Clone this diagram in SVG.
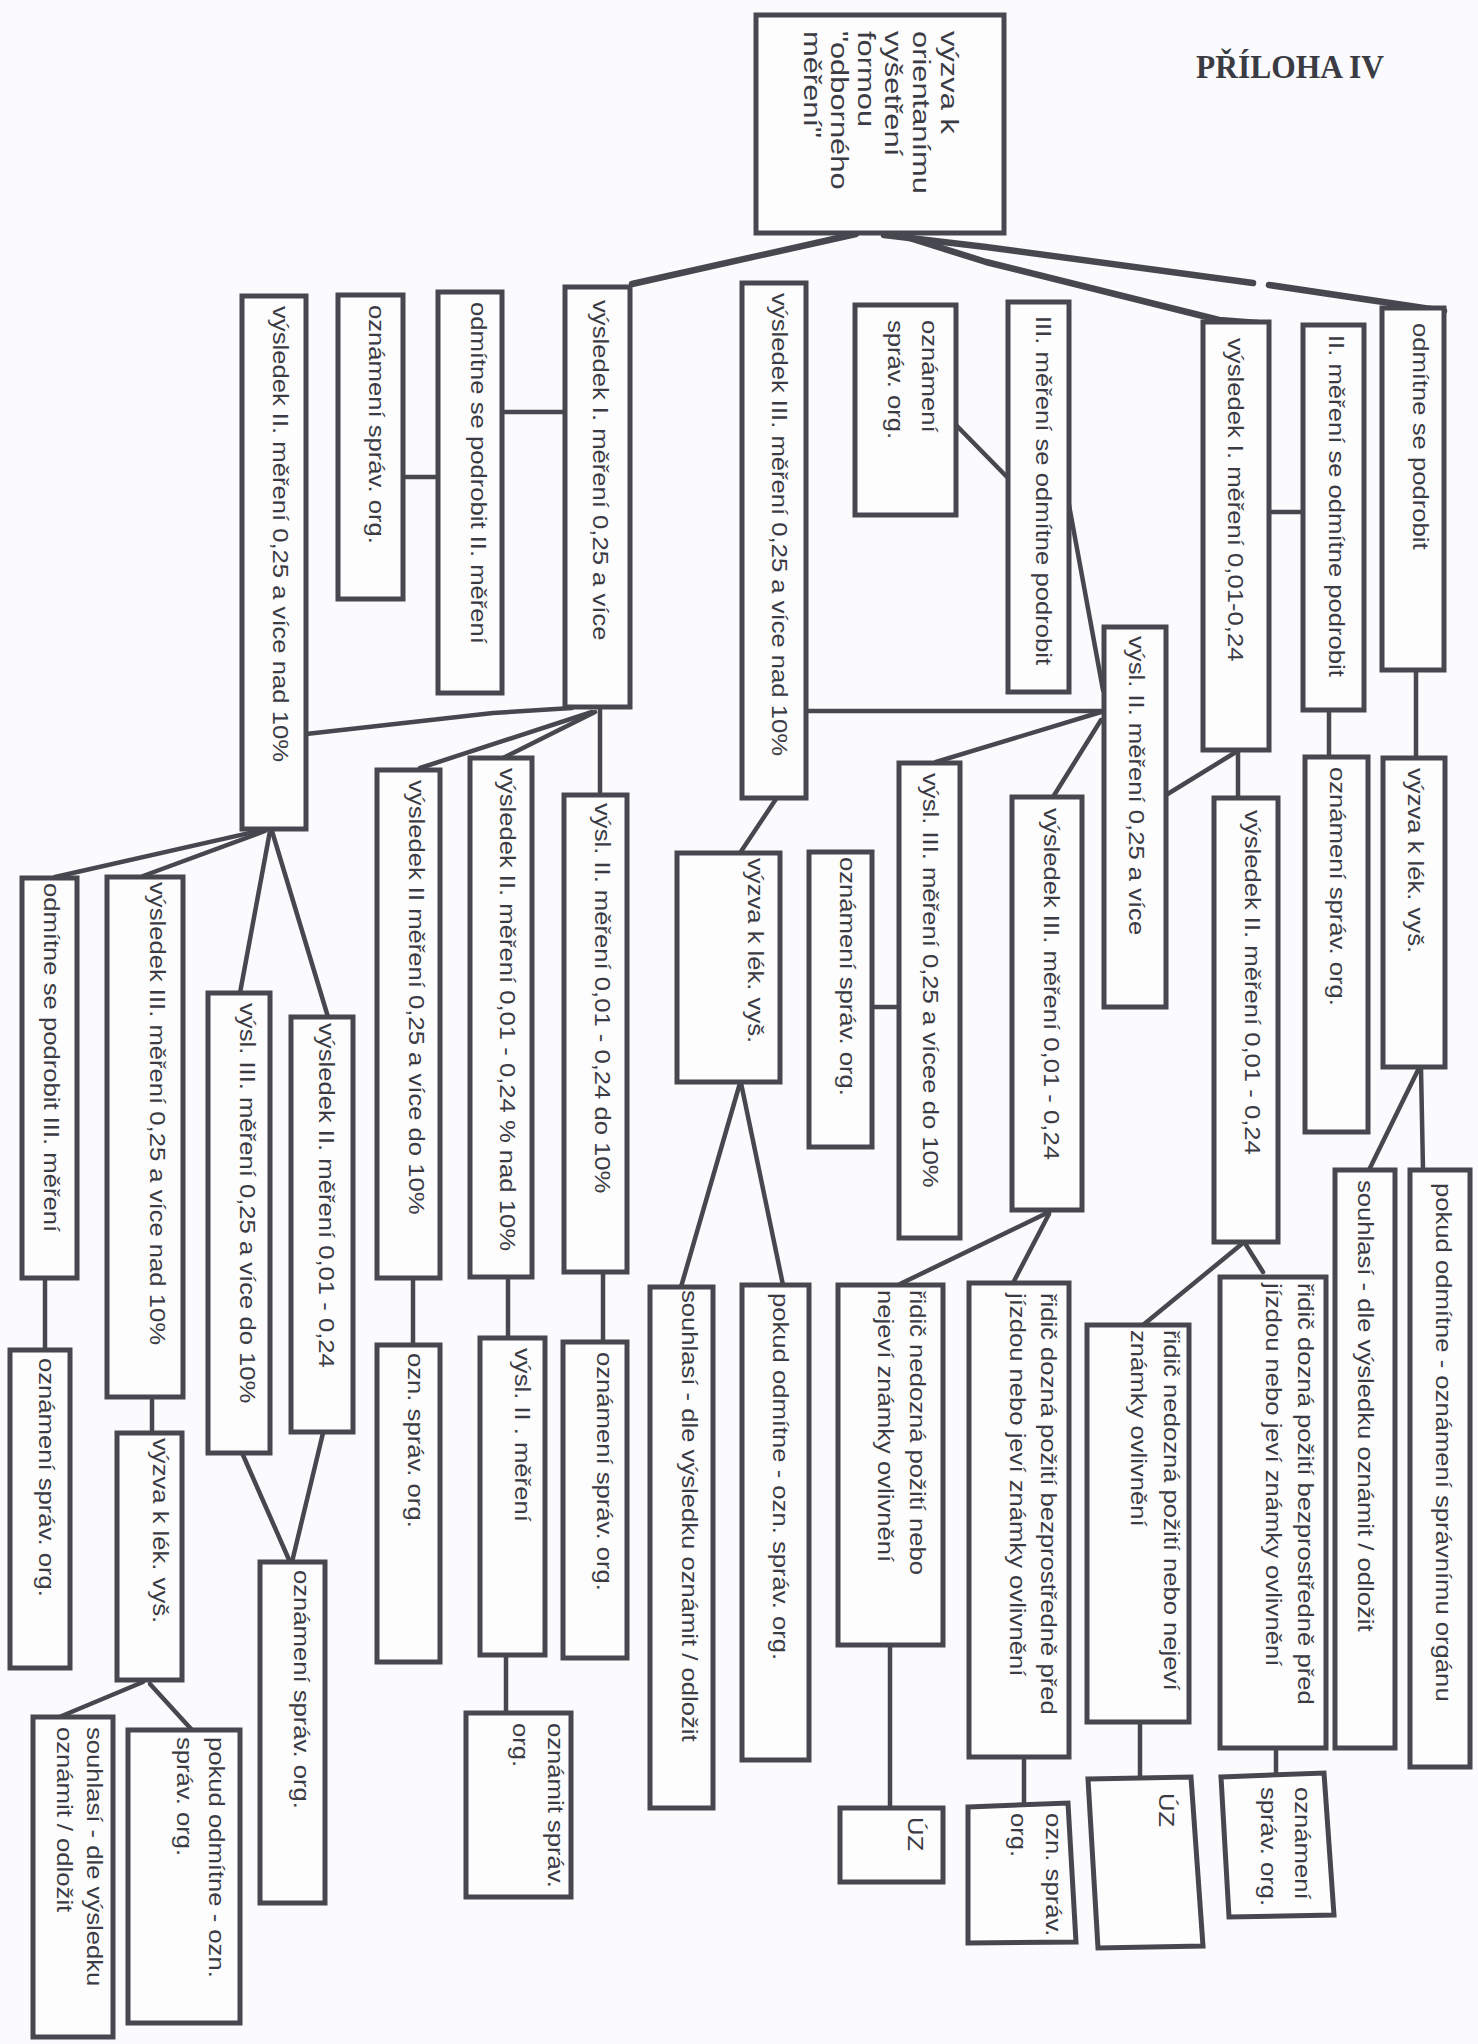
<svg xmlns="http://www.w3.org/2000/svg" width="1478" height="2044" viewBox="0 0 1478 2044">
<style>
.bg{fill:#fbfbfd}
.b{fill:#fdfdfe;stroke:#47474f;stroke-width:5;stroke-linejoin:miter}
.c{fill:none;stroke:#47474f;stroke-width:4.5;stroke-linecap:round;stroke-linejoin:round}
.ct{fill:none;stroke:#47474f;stroke-width:6.5;stroke-linecap:round;stroke-linejoin:round}
.t{font-family:"Liberation Sans",Arial,sans-serif;font-size:22.5px;fill:#3b3b44;dominant-baseline:central}
.r{font-family:"Liberation Sans",Arial,sans-serif;font-size:24.5px;fill:#3b3b44;dominant-baseline:central}
.h{font-family:"Liberation Serif","Times New Roman",serif;font-weight:bold;font-size:33px;fill:#3b3b44}
</style>
<rect class="bg" x="0" y="0" width="1478" height="2044"/>
<text class="h" x="1196" y="78" textLength="188" lengthAdjust="spacingAndGlyphs">PŘÍLOHA IV</text>

<g id="connectors">
<path class="ct" d="M856 234 L632 284"/>
<path class="ct" d="M884 235 L986 247 L1253 283"/>
<path class="ct" d="M1269 285 L1444 311"/>
<path class="ct" d="M900 235 L986 262 L1219 320 L1258 323"/>
<path class="c" d="M403 477 L438 477"/>
<path class="c" d="M502 412 L565 412"/>
<path class="c" d="M306 734 L493 713 L572 708"/>
<path class="c" d="M592 712 L420 768"/>
<path class="c" d="M595 712 L503 758"/>
<path class="c" d="M600 707 L600 795"/>
<path class="c" d="M806 711 L1104 711"/>
<path class="c" d="M1101 712 L936 762"/>
<path class="c" d="M1101 720 L1053 797"/>
<path class="c" d="M1236 752 L1166 795"/>
<path class="c" d="M956 425 L1008 478"/>
<path class="c" d="M1069 505 L1103 690"/>
<path class="c" d="M1269 512 L1303 512"/>
<path class="c" d="M1238 750 L1238 798"/>
<path class="c" d="M1329 710 L1329 757"/>
<path class="c" d="M1416 670 L1416 758"/>
<path class="c" d="M1419 1068 L1369 1170"/>
<path class="c" d="M1421 1068 L1423 1170"/>
<path class="c" d="M1243 1243 L1143 1325"/>
<path class="c" d="M1246 1245 L1263 1272"/>
<path class="c" d="M1140 1722 L1140 1778"/>
<path class="c" d="M1276 1748 L1276 1776"/>
<path class="c" d="M872 1007 L899 1007"/>
<path class="c" d="M776 799 L740 853"/>
<path class="c" d="M740 1083 L681 1287"/>
<path class="c" d="M741 1083 L783 1285"/>
<path class="c" d="M603 1272 L603 1342"/>
<path class="c" d="M413 1278 L413 1345"/>
<path class="c" d="M508 1277 L508 1338"/>
<path class="c" d="M506 1654 L506 1713"/>
<path class="c" d="M258 831 L55 877"/>
<path class="c" d="M265 831 L143 876"/>
<path class="c" d="M270 831 L240 993"/>
<path class="c" d="M272 831 L328 1017"/>
<path class="c" d="M45 1278 L45 1350"/>
<path class="c" d="M152 1397 L152 1433"/>
<path class="c" d="M143 1682 L57 1718"/>
<path class="c" d="M150 1684 L192 1730"/>
<path class="c" d="M243 1455 L290 1562"/>
<path class="c" d="M323 1433 L292 1562"/>
<path class="c" d="M1049 1212 L900 1284"/>
<path class="c" d="M1049 1214 L1013 1283"/>
<path class="c" d="M890 1645 L890 1808"/>
<path class="c" d="M1024 1757 L1024 1806"/>
</g>

<g id="n-root"><rect class="b" x="756" y="15" width="248" height="218"/>
<text class="r" transform="translate(949,31) rotate(90) scale(1.26,1)">výzva k</text>
<text class="r" transform="translate(921,31) rotate(90) scale(1.26,1)">orientanímu</text>
<text class="r" transform="translate(893,31) rotate(90) scale(1.26,1)">vyšetření</text>
<text class="r" transform="translate(866,31) rotate(90) scale(1.26,1)">formou</text>
<text class="r" transform="translate(839,31) rotate(90) scale(1.26,1)">"odborného</text>
<text class="r" transform="translate(812,31) rotate(90) scale(1.26,1)">měření"</text></g>

<g id="n-A"><rect class="b" x="242" y="296" width="64" height="533"/><text class="t" transform="translate(281,306) rotate(90) scale(1.14,1)">výsledek II. měření 0,25 a více nad 10%</text></g>
<g id="n-B"><rect class="b" x="338" y="295" width="65" height="304"/><text class="t" transform="translate(377,305) rotate(90) scale(1.14,1)">oznámení správ. org.</text></g>
<g id="n-C"><rect class="b" x="438" y="292" width="64" height="401"/><text class="t" transform="translate(479,302) rotate(90) scale(1.14,1)">odmítne se podrobit II. měření</text></g>
<g id="n-D"><rect class="b" x="565" y="287" width="65" height="420"/><text class="t" transform="translate(601,300) rotate(90) scale(1.14,1)">výsledek I. měření 0,25 a více</text></g>
<g id="n-E"><rect class="b" x="742" y="283" width="64" height="515"/><text class="t" transform="translate(780,293) rotate(90) scale(1.14,1)">výsledek III. měření 0,25 a více nad 10%</text></g>
<g id="n-F"><rect class="b" x="855" y="305" width="101" height="210"/>
<text class="t" transform="translate(930,320) rotate(90) scale(1.14,1)">oznámení</text>
<text class="t" transform="translate(896,320) rotate(90) scale(1.14,1)">správ. org.</text></g>
<g id="n-G"><rect class="b" x="1008" y="302" width="61" height="390"/><text class="t" transform="translate(1044,316) rotate(90) scale(1.14,1)">III. měření se odmítne podrobit</text></g>
<g id="n-H"><rect class="b" x="1104" y="627" width="62" height="380"/><text class="t" transform="translate(1137,636) rotate(90) scale(1.14,1)">výsl. II. měření 0,25 a více</text></g>
<g id="n-K"><rect class="b" x="1203" y="322" width="66" height="428"/><text class="t" transform="translate(1236,338) rotate(90) scale(1.14,1)">výsledek I. měření 0,01-0,24</text></g>
<g id="n-L"><rect class="b" x="1303" y="325" width="61" height="385"/><text class="t" transform="translate(1337,335) rotate(90) scale(1.14,1)">II. měření se odmítne podrobit</text></g>
<g id="n-M"><rect class="b" x="1382" y="308" width="62" height="362"/><text class="t" transform="translate(1421,323) rotate(90) scale(1.14,1)">odmítne se podrobit</text></g>
<g id="n-N"><rect class="b" x="1305" y="757" width="63" height="375"/><text class="t" transform="translate(1338,767) rotate(90) scale(1.14,1)">oznámení správ. org.</text></g>
<g id="n-O"><rect class="b" x="1383" y="758" width="62" height="309"/><text class="t" transform="translate(1416,768) rotate(90) scale(1.14,1)">výzva k lék. vyš.</text></g>
<g id="n-P"><rect class="b" x="1335" y="1170" width="60" height="578"/><text class="t" transform="translate(1366,1180) rotate(90) scale(1.14,1)">souhlasí - dle výsledku oznámit / odložit</text></g>
<g id="n-Q"><rect class="b" x="1410" y="1170" width="60" height="597"/><text class="t" transform="translate(1444,1183) rotate(90) scale(1.14,1)">pokud odmítne - oznámení správnímu orgánu</text></g>
<g id="n-R"><rect class="b" x="1214" y="798" width="64" height="444"/><text class="t" transform="translate(1253,810) rotate(90) scale(1.14,1)">výsledek II. měření 0,01 - 0,24</text></g>
<g id="n-S"><rect class="b" x="1087" y="1325" width="102" height="397"/>
<text class="t" transform="translate(1172,1330) rotate(90) scale(1.14,1)">řidič nedozná požití nebo nejeví</text>
<text class="t" transform="translate(1139,1330) rotate(90) scale(1.14,1)">známky ovlivnění</text></g>
<g id="n-T"><rect class="b" x="1220" y="1277" width="106" height="471"/>
<text class="t" transform="translate(1306,1283) rotate(90) scale(1.14,1)">řidič dozná požití bezprostředně před</text>
<text class="t" transform="translate(1274,1283) rotate(90) scale(1.14,1)">jízdou nebo jeví známky ovlivnění</text></g>
<g id="n-U"><polygon class="b" points="1088,1779 1191,1777 1203,1946 1098,1948"/><text class="t" transform="translate(1167,1793) rotate(90) scale(1.14,1)">ÚZ</text></g>
<g id="n-V"><polygon class="b" points="1221,1777 1324,1773 1334,1915 1229,1917"/>
<text class="t" transform="translate(1303,1787) rotate(90) scale(1.14,1)">oznámení</text>
<text class="t" transform="translate(1269,1787) rotate(90) scale(1.14,1)">správ. org.</text></g>
<g id="n-I"><rect class="b" x="899" y="763" width="61" height="475"/><text class="t" transform="translate(931,773) rotate(90) scale(1.14,1)">výsl. III. měření 0,25 a vícee do 10%</text></g>
<g id="n-W"><rect class="b" x="809" y="852" width="63" height="295"/><text class="t" transform="translate(848,857) rotate(90) scale(1.14,1)">oznámení správ. org.</text></g>
<g id="n-X"><rect class="b" x="677" y="853" width="103" height="229"/><text class="t" transform="translate(756,858) rotate(90) scale(1.14,1)">výzva k lék. vyš.</text></g>
<g id="n-Y"><rect class="b" x="650" y="1287" width="63" height="521"/><text class="t" transform="translate(690,1290) rotate(90) scale(1.14,1)">souhlasí - dle výsledku oznámit / odložit</text></g>
<g id="n-Z"><rect class="b" x="742" y="1285" width="67" height="475"/><text class="t" transform="translate(781,1293) rotate(90) scale(1.14,1)">pokud odmítne - ozn. správ. org.</text></g>
<g id="n-AA"><rect class="b" x="564" y="795" width="63" height="477"/><text class="t" transform="translate(603,803) rotate(90) scale(1.14,1)">výsl. II. měření 0,01 - 0,24 do 10%</text></g>
<g id="n-AB"><rect class="b" x="377" y="770" width="63" height="508"/><text class="t" transform="translate(417,780) rotate(90) scale(1.14,1)">výsledek II měření 0,25 a více do 10%</text></g>
<g id="n-AC"><rect class="b" x="470" y="758" width="62" height="519"/><text class="t" transform="translate(508,768) rotate(90) scale(1.14,1)">výsledek II. měření 0,01 - 0,24 % nad 10%</text></g>
<g id="n-AD"><rect class="b" x="377" y="1345" width="63" height="317"/><text class="t" transform="translate(416,1353) rotate(90) scale(1.14,1)">ozn. správ. org.</text></g>
<g id="n-AE"><rect class="b" x="480" y="1338" width="65" height="317"/><text class="t" transform="translate(523,1348) rotate(90) scale(1.14,1)">výsl. II . měření</text></g>
<g id="n-AF"><rect class="b" x="466" y="1713" width="105" height="184"/>
<text class="t" transform="translate(556,1723) rotate(90) scale(1.14,1)">oznámit správ.</text>
<text class="t" transform="translate(521,1723) rotate(90) scale(1.14,1)">org.</text></g>
<g id="n-AG"><rect class="b" x="563" y="1342" width="64" height="316"/><text class="t" transform="translate(605,1352) rotate(90) scale(1.14,1)">oznámení správ. org.</text></g>
<g id="n-AH"><rect class="b" x="22" y="878" width="55" height="400"/><text class="t" transform="translate(52,883) rotate(90) scale(1.14,1)">odmítne se podrobit III. měření</text></g>
<g id="n-AL"><rect class="b" x="10" y="1350" width="60" height="318"/><text class="t" transform="translate(47,1358) rotate(90) scale(1.14,1)">oznámení správ. org.</text></g>
<g id="n-AI"><rect class="b" x="107" y="877" width="76" height="520"/><text class="t" transform="translate(158,882) rotate(90) scale(1.14,1)">výsledek III. měření 0,25 a více nad 10%</text></g>
<g id="n-AM"><rect class="b" x="117" y="1433" width="65" height="247"/><text class="t" transform="translate(161,1438) rotate(90) scale(1.14,1)">výzva k lék. vyš.</text></g>
<g id="n-AN"><rect class="b" x="33" y="1717" width="80" height="320"/>
<text class="t" transform="translate(95,1727) rotate(90) scale(1.14,1)">souhlasí - dle výsledku</text>
<text class="t" transform="translate(65,1727) rotate(90) scale(1.14,1)">oznámit / odložit</text></g>
<g id="n-AO"><rect class="b" x="128" y="1730" width="112" height="293"/>
<text class="t" transform="translate(217,1737) rotate(90) scale(1.14,1)">pokud odmítne - ozn.</text>
<text class="t" transform="translate(185,1737) rotate(90) scale(1.14,1)">správ. org.</text></g>
<g id="n-AJ"><rect class="b" x="208" y="993" width="62" height="460"/><text class="t" transform="translate(248,1003) rotate(90) scale(1.14,1)">výsl. III. měření 0,25 a více do 10%</text></g>
<g id="n-AK"><rect class="b" x="291" y="1017" width="62" height="415"/><text class="t" transform="translate(327,1023) rotate(90) scale(1.14,1)">výsledek II. měření 0,01 - 0,24</text></g>
<g id="n-AP"><rect class="b" x="260" y="1562" width="65" height="341"/><text class="t" transform="translate(302,1570) rotate(90) scale(1.14,1)">oznámení správ. org.</text></g>
<g id="n-J"><rect class="b" x="1012" y="797" width="70" height="413"/><text class="t" transform="translate(1052,808) rotate(90) scale(1.14,1)">výsledek III. měření 0,01 - 0,24</text></g>
<g id="n-AQ"><rect class="b" x="838" y="1285" width="105" height="360"/>
<text class="t" transform="translate(918,1290) rotate(90) scale(1.14,1)">řidič nedozná požití nebo</text>
<text class="t" transform="translate(886,1290) rotate(90) scale(1.14,1)">nejeví známky ovlivnění</text></g>
<g id="n-AR"><rect class="b" x="969" y="1283" width="100" height="474"/>
<text class="t" transform="translate(1049,1293) rotate(90) scale(1.14,1)">řidič dozná požití bezprostředně před</text>
<text class="t" transform="translate(1018,1293) rotate(90) scale(1.14,1)">jízdou nebo jeví známky ovlivnění</text></g>
<g id="n-AS"><rect class="b" x="840" y="1808" width="103" height="74"/><text class="t" transform="translate(916,1817) rotate(90) scale(1.14,1)">ÚZ</text></g>
<g id="n-AT"><polygon class="b" points="968,1807 1068,1803 1076,1942 968,1943"/>
<text class="t" transform="translate(1054,1813) rotate(90) scale(1.14,1)">ozn. správ.</text>
<text class="t" transform="translate(1019,1813) rotate(90) scale(1.14,1)">org.</text></g>
</svg>
